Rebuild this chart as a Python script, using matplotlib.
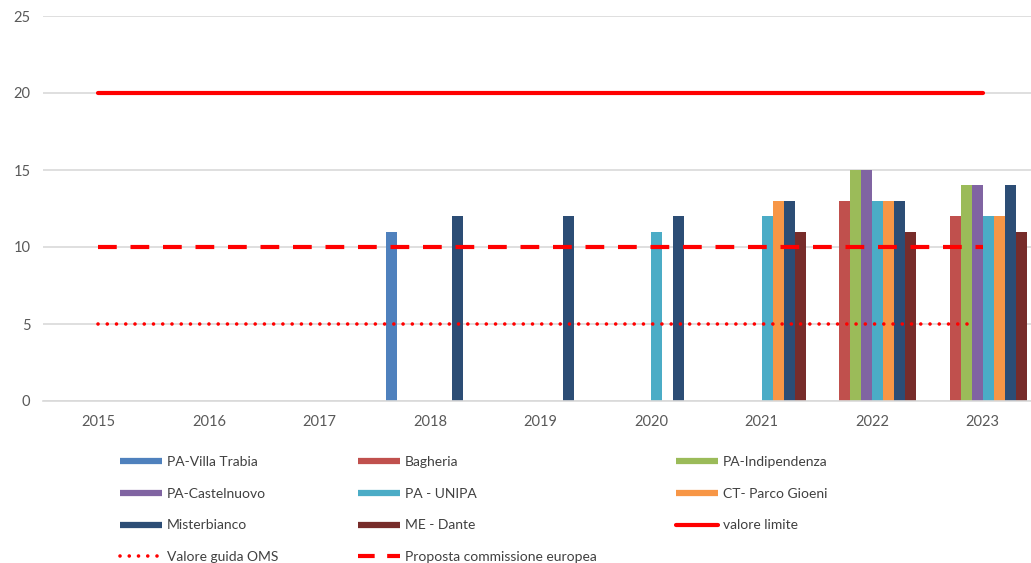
import numpy as np
import matplotlib
matplotlib.use("Agg")
import matplotlib.pyplot as plt
from matplotlib.lines import Line2D

plt.rcParams['font.family'] = ['Lato', 'DejaVu Sans']

years = ['2015', '2016', '2017', '2018', '2019', '2020', '2021', '2022', '2023']
nan = np.nan

stations = ['PA-Villa Trabia', 'Bagheria', 'PA-Indipendenza', 'PA-Castelnuovo',
            'PA - UNIPA', 'CT- Parco Gioeni', 'Misterbianco', 'ME - Dante']
villa_trabia = [nan, nan, nan, 11, nan, nan, nan, nan, nan]
bagheria = [nan, nan, nan, nan, nan, nan, nan, 13, 12]
indipendenza = [nan, nan, nan, nan, nan, nan, nan, 15, 14]
castelnuovo = [nan, nan, nan, nan, nan, nan, nan, 15, 14]
unipa = [nan, nan, nan, nan, nan, 11, 12, 13, 12]
parco_gioeni = [nan, nan, nan, nan, nan, nan, 13, 13, 12]
misterbianco = [nan, nan, nan, 12, 12, 12, 13, 13, 14]
me_dante = [nan, nan, nan, nan, nan, nan, 11, 11, 11]

valore_limite = [20, 20, 20, 20, 20, 20, 20, 20, 20]
valore_oms = [5, 5, 5, 5, 5, 5, 5, 5, 5]
proposta_ue = [10, 10, 10, 10, 10, 10, 10, 10, 10]

colors = ['#4F81BD', '#C0504D', '#9BBB59', '#8064A2',
          '#4BACC6', '#F79646', '#2C4D75', '#772C2A']
series = [villa_trabia, bagheria, indipendenza, castelnuovo,
          unipa, parco_gioeni, misterbianco, me_dante]

fig = plt.figure(figsize=(10.31, 5.63), dpi=100)
ax = fig.add_axes([43/1031, 1 - 401/563, 995/1031, 385/563])

x = np.arange(len(years))
w = 0.1
for i, (vals, c) in enumerate(zip(series, colors)):
    ax.bar(x + (i - 3.5) * w, vals, w, color=c, zorder=2)

ax.plot(x, valore_limite, color='#FF0000', lw=3, solid_capstyle='round', zorder=3)
ax.plot(x, proposta_ue, color='#FF0000', lw=3, dashes=(4.5, 3.3),
        dash_capstyle='butt', zorder=3)
# dotted line stops a little short of the last category in the original
ax.plot(x[:-1].tolist() + [7.93], valore_oms, color='#FF0000',
        lw=2.6, dashes=(0.01, 2.55), dash_capstyle='round', zorder=3)

ax.set_xlim(-0.5, 8.5)
ax.set_ylim(0, 25)
ax.set_yticks([0, 5, 10, 15, 20, 25])
ax.set_xticks(x)
ax.set_xticklabels(years)
ax.grid(axis='y', color='#D9D9D9', lw=1.2, zorder=0)
for s in ['top', 'right', 'left']:
    ax.spines[s].set_visible(False)
ax.spines['bottom'].set_color('#D9D9D9')
ax.spines['bottom'].set_linewidth(1.2)
ax.tick_params(length=0, labelsize=10.5, labelcolor='#595959')
ax.tick_params(axis='y', pad=9)
ax.tick_params(axis='x', pad=10)

h = {}
for name, c in zip(stations, colors):
    h[name] = Line2D([], [], color=c, lw=4.5, solid_capstyle='butt')
h['valore limite'] = Line2D([], [], color='#FF0000', lw=3, solid_capstyle='round')
h['Valore guida OMS'] = Line2D([], [], color='#FF0000', lw=2.6, dashes=(0.01, 2.55),
                               dash_capstyle='round')
h['Proposta commissione europea'] = Line2D([], [], color='#FF0000', lw=3,
                                           dashes=(4.0, 3.0), dash_capstyle='butt')
order = ['PA-Villa Trabia', 'PA-Castelnuovo', 'Misterbianco', 'Valore guida OMS',
         'Bagheria', 'PA - UNIPA', 'ME - Dante', 'Proposta commissione europea',
         'PA-Indipendenza', 'CT- Parco Gioeni', 'valore limite']
leg = fig.legend([h[k] for k in order], order, ncol=3, loc='upper left',
                 bbox_to_anchor=(120/1031, 1 - 456/563), frameon=False,
                 fontsize=10, handlelength=3.0, handletextpad=0.36,
                 columnspacing=5.75, labelspacing=1.42, borderpad=0, borderaxespad=0)
for t in leg.get_texts():
    t.set_color('#404040')

fig.savefig('out.png', dpi=100)
